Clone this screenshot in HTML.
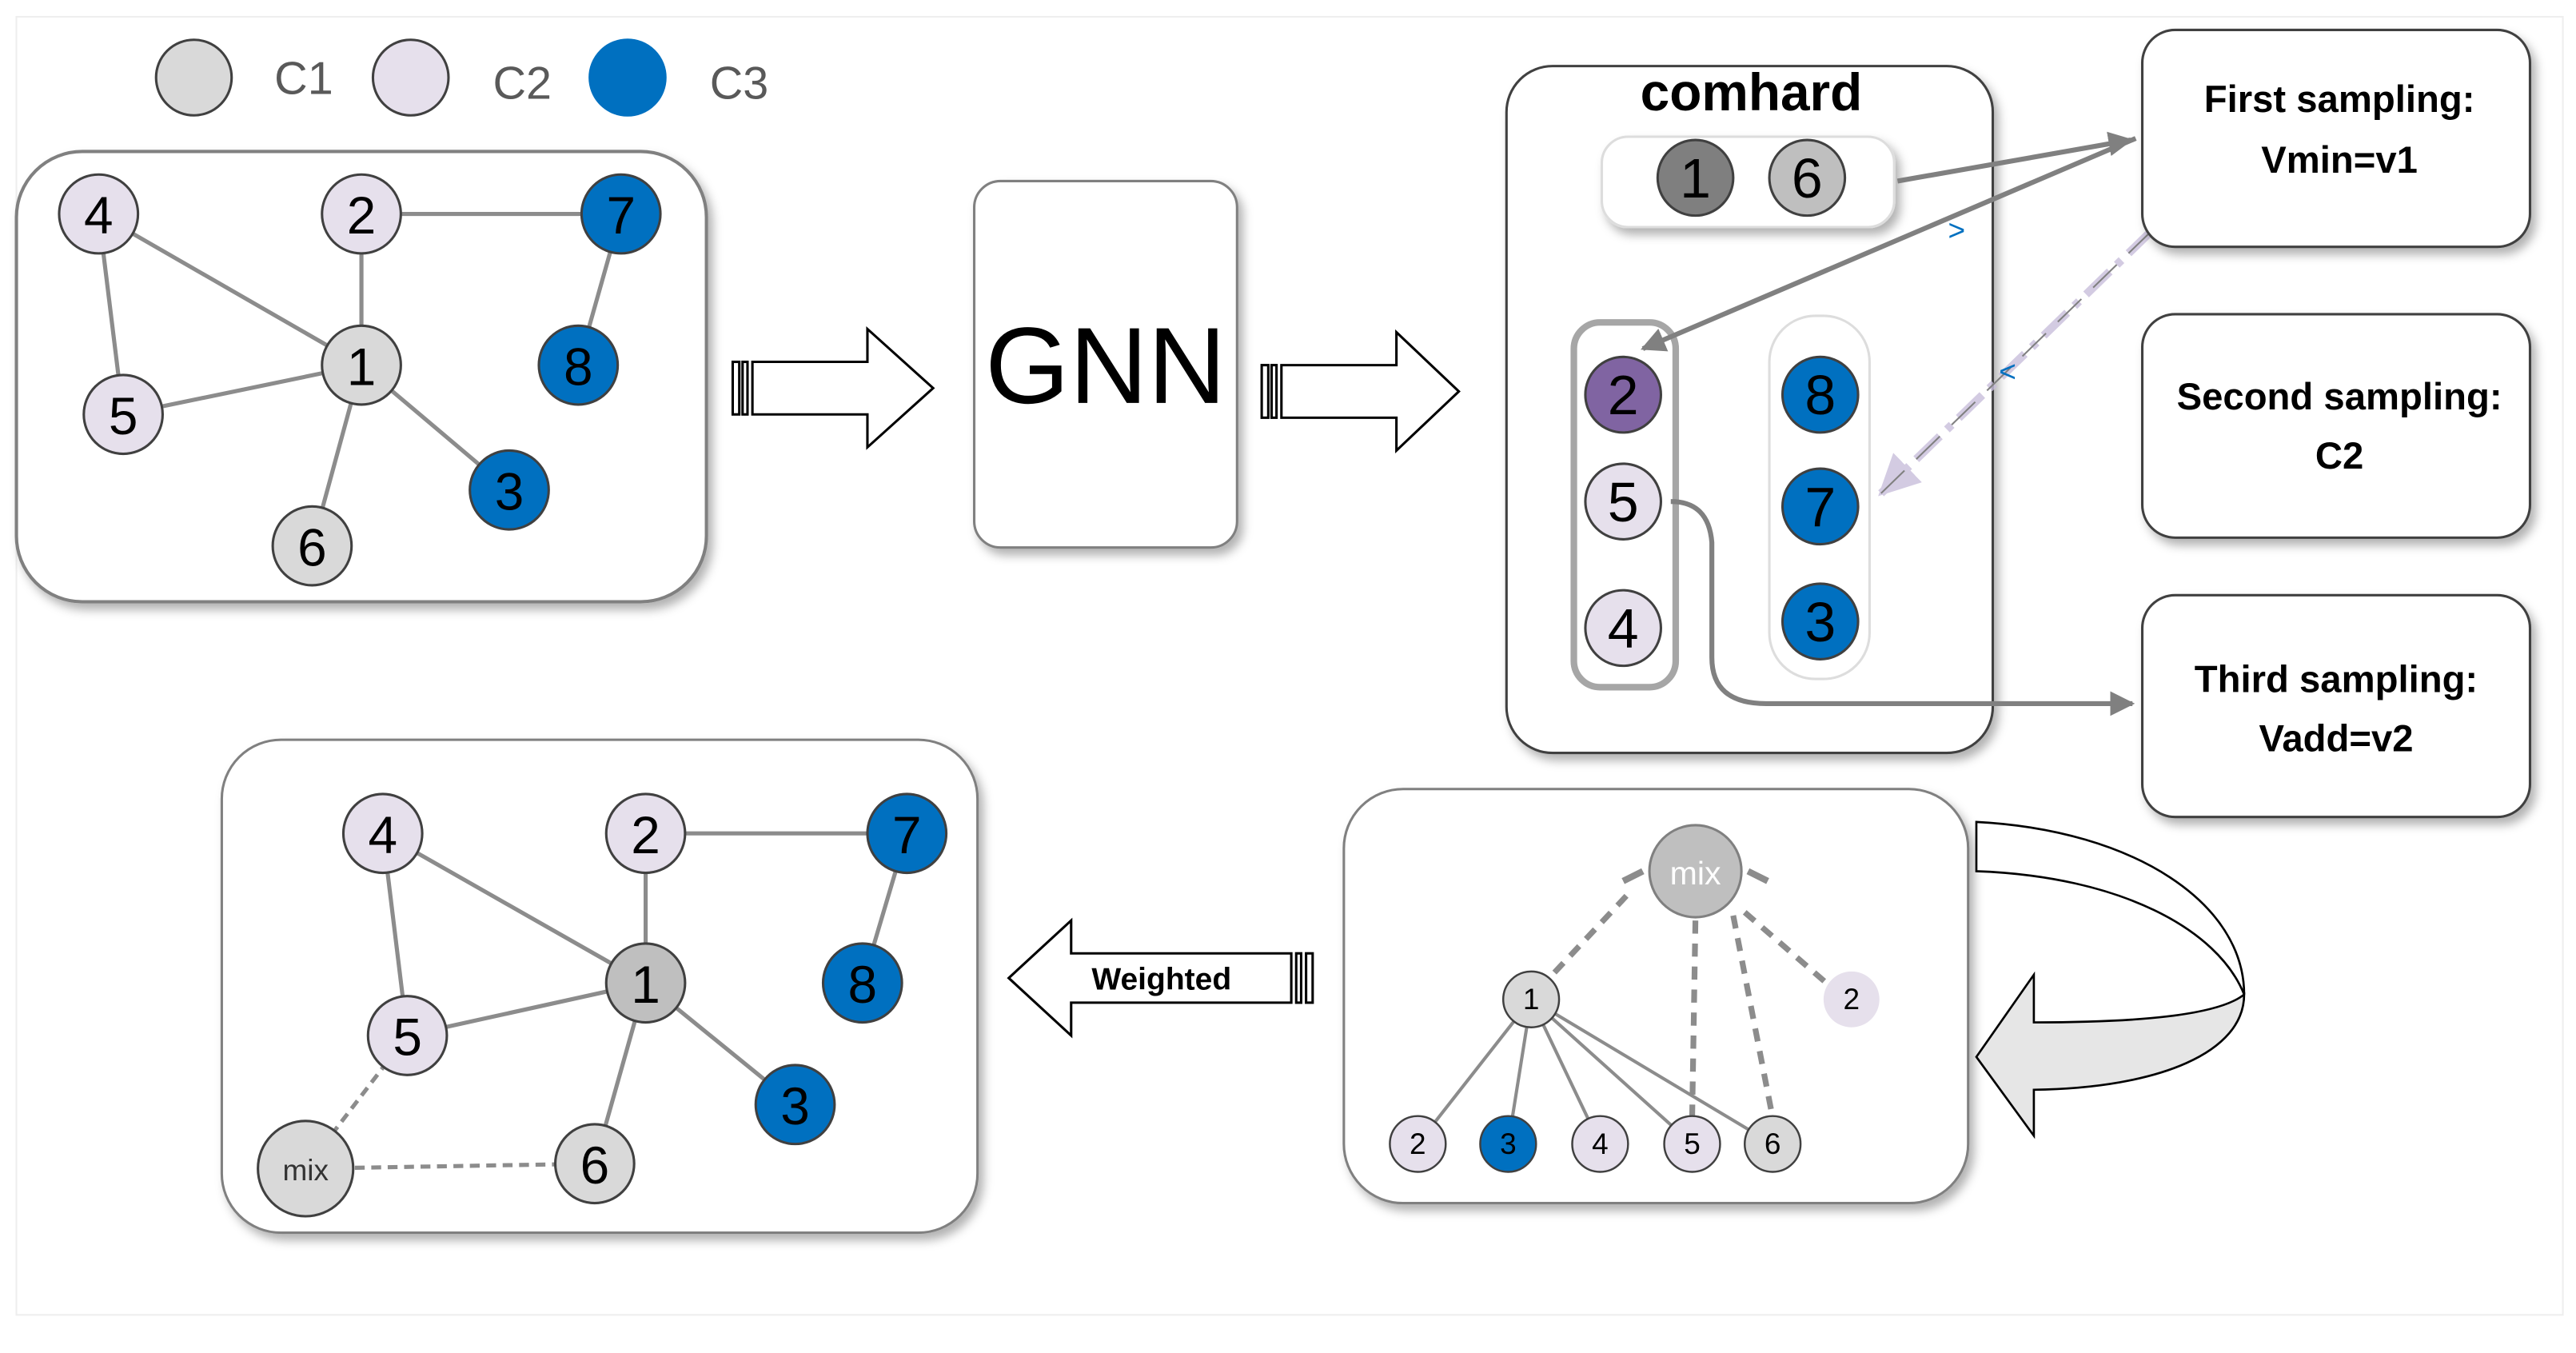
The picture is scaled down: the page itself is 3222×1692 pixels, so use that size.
<!DOCTYPE html>
<html><head><meta charset="utf-8"><style>html,body{margin:0;padding:0;background:#fff}svg{display:block}</style></head><body>
<svg width="3222" height="1692" viewBox="0 0 1568 823" xmlns="http://www.w3.org/2000/svg" font-family="Liberation Sans, sans-serif">
<defs>
<filter id="sh" x="-10%" y="-10%" width="130%" height="130%"><feDropShadow dx="3" dy="4" stdDeviation="3" flood-color="#000" flood-opacity="0.3"/></filter>
<marker id="ah" viewBox="0 0 10 10" refX="9" refY="5" markerWidth="5" markerHeight="5" orient="auto"><path d="M0,0L10,5L0,10z" fill="#808080"/></marker>
<marker id="ahp" viewBox="0 0 10 10" refX="9" refY="5" markerWidth="5" markerHeight="5" orient="auto"><path d="M0,0L10,5L0,10z" fill="#c9bfdc"/></marker>
</defs>
<rect x="10" y="10" width="1550" height="790" fill="none" stroke="#eee"/>
<!-- legend -->
<g stroke="#404040" stroke-width="1.5">
<circle cx="118" cy="47" r="23" fill="#d9d9d9"/><circle cx="250" cy="47" r="23" fill="#e6e0ec"/><circle cx="382" cy="47" r="23" fill="#0070c0" stroke="#0070c0"/>
</g>
<g font-size="28" fill="#595959"><text x="167" y="57">C1</text><text x="300" y="60">C2</text><text x="432" y="60">C3</text></g>

<!-- top-left graph -->
<rect x="10" y="92" width="420" height="274" rx="40" fill="#fff" stroke="#808080" stroke-width="2" filter="url(#sh)"/>
<g stroke="#8c8c8c" stroke-width="2.5">
<line x1="60" y1="130" x2="220" y2="222"/><line x1="60" y1="130" x2="75" y2="252"/><line x1="220" y1="130" x2="378" y2="130"/><line x1="220" y1="130" x2="220" y2="222"/><line x1="378" y1="130" x2="352" y2="222"/><line x1="75" y1="252" x2="220" y2="222"/><line x1="220" y1="222" x2="310" y2="298"/><line x1="220" y1="222" x2="190" y2="332"/>
</g>
<g stroke="#404040" stroke-width="1.5" font-size="32" text-anchor="middle">
<g><circle cx="60" cy="130" r="24" fill="#e6e0ec"/><circle cx="220" cy="130" r="24" fill="#e6e0ec"/><circle cx="378" cy="130" r="24" fill="#0070c0"/><circle cx="220" cy="222" r="24" fill="#d9d9d9"/><circle cx="352" cy="222" r="24" fill="#0070c0"/><circle cx="75" cy="252" r="24" fill="#e6e0ec"/><circle cx="310" cy="298" r="24" fill="#0070c0"/><circle cx="190" cy="332" r="24" fill="#d9d9d9"/></g>
<g stroke="none" fill="#000"><text x="60" y="142">4</text><text x="220" y="142">2</text><text x="378" y="142">7</text><text x="220" y="234">1</text><text x="352" y="234">8</text><text x="75" y="264">5</text><text x="310" y="310">3</text><text x="190" y="344">6</text></g>
</g>

<!-- hollow arrows -->
<g fill="#fff" stroke="#000" stroke-width="1.5">
<path d="M458,220 L528,220 L528,200 L568,236 L528,272 L528,252 L458,252 Z"/>
<rect x="446" y="220" width="4" height="32"/><rect x="452" y="220" width="3" height="32"/>
<path d="M780,222 L850,222 L850,202 L888,238 L850,274 L850,254 L780,254 Z"/>
<rect x="768" y="222" width="4" height="32"/><rect x="774" y="222" width="3" height="32"/>
</g>
<!-- GNN -->
<rect x="593" y="110" width="160" height="223" rx="16" fill="#fff" stroke="#808080" stroke-width="1.5" filter="url(#sh)"/>
<text x="673" y="245" font-size="66" text-anchor="middle">GNN</text>

<!-- comhard -->
<rect x="917" y="40" width="296" height="418" rx="28" fill="#fff" stroke="#404040" stroke-width="1.5" filter="url(#sh)"/>
<text x="1066" y="67" font-size="32" font-weight="bold" text-anchor="middle">comhard</text>
<rect x="975" y="83" width="178" height="55" rx="16" fill="#fff" stroke="#ddd" stroke-width="1.5" filter="url(#sh)"/>
<rect x="958" y="196" width="62" height="222" rx="16" fill="#fff" stroke="#a6a6a6" stroke-width="4"/>
<rect x="1077" y="192" width="61" height="221" rx="28" fill="#fff" stroke="#ddd" stroke-width="1.5"/>
<g stroke="#808080" stroke-width="3" fill="none">
<line x1="1155" y1="110" x2="1297" y2="85" marker-end="url(#ah)"/>
<line x1="1300" y1="84" x2="1000" y2="212" marker-end="url(#ah)"/>
<path d="M1017,305 Q1040,305 1042,330 L1042,400 Q1042,428 1075,428 L1298,428" marker-end="url(#ah)"/>
</g>
<line x1="1310" y1="140" x2="1145" y2="300" stroke="#c9bfdc" stroke-width="5" stroke-dasharray="20,6,4,6" opacity="0.8" marker-end="url(#ahp)"/>
<line x1="1310" y1="140" x2="1145" y2="300" stroke="#808080" stroke-width="1" stroke-dasharray="20,10"/>
<text x="1191" y="146" font-size="18" fill="#0070c0" text-anchor="middle">&gt;</text>
<text x="1222" y="232" font-size="18" fill="#0070c0" text-anchor="middle">&lt;</text>
<g stroke="#404040" stroke-width="1.5" font-size="34" text-anchor="middle">
<g><circle cx="1032" cy="108" r="23" fill="#7f7f7f"/><circle cx="1100" cy="108" r="23" fill="#bfbfbf"/><circle cx="988" cy="240" r="23" fill="#8064a2"/><circle cx="988" cy="305" r="23" fill="#e6e0ec"/><circle cx="988" cy="382" r="23" fill="#e6e0ec"/><circle cx="1108" cy="240" r="23" fill="#0070c0"/><circle cx="1108" cy="308" r="23" fill="#0070c0"/><circle cx="1108" cy="378" r="23" fill="#0070c0"/></g>
<g stroke="none" fill="#000"><text x="1032" y="120">1</text><text x="1100" y="120">6</text><text x="988" y="252">2</text><text x="988" y="317">5</text><text x="988" y="394">4</text><text x="1108" y="252">8</text><text x="1108" y="320">7</text><text x="1108" y="390">3</text></g>
</g>

<!-- sampling boxes -->
<g fill="#fff" stroke="#404040" stroke-width="1.5" filter="url(#sh)">
<rect x="1304" y="18" width="236" height="132" rx="20"/><rect x="1304" y="191" width="236" height="136" rx="20"/><rect x="1304" y="362" width="236" height="135" rx="20"/>
</g>
<g font-size="23" font-weight="bold" text-anchor="middle">
<text x="1424" y="68">First sampling:</text><text x="1424" y="105">Vmin=v1</text>
<text x="1424" y="249">Second sampling:</text><text x="1424" y="285">C2</text>
<text x="1422" y="421">Third sampling:</text><text x="1422" y="457">Vadd=v2</text>
</g>

<!-- bottom-right tree -->
<rect x="818" y="480" width="380" height="252" rx="36" fill="#fff" stroke="#808080" stroke-width="1.5" filter="url(#sh)"/>
<g stroke="#8c8c8c" stroke-width="2">
<line x1="932" y1="608" x2="863" y2="696"/><line x1="932" y1="608" x2="918" y2="696"/><line x1="932" y1="608" x2="974" y2="696"/><line x1="932" y1="608" x2="1030" y2="696"/><line x1="932" y1="608" x2="1079" y2="696"/>
</g>
<g stroke="#8c8c8c" stroke-width="3.5" stroke-dasharray="8,6" fill="none">
<line x1="990" y1="545" x2="944" y2="594"/><line x1="1032" y1="560" x2="1030" y2="680"/><line x1="1055" y1="557" x2="1079" y2="680"/><line x1="1062" y1="555" x2="1114" y2="600"/>
</g>
<path d="M988,536 L1000,530 M1076,536 L1064,530" stroke="#8c8c8c" stroke-width="4"/>
<circle cx="1032" cy="530" r="28" fill="#bfbfbf" stroke="#808080" stroke-width="1.5"/>
<text x="1032" y="538" font-size="20" fill="#fff" text-anchor="middle">mix</text>
<g stroke="#404040" stroke-width="1.2" font-size="18" text-anchor="middle">
<g><circle cx="932" cy="608" r="17" fill="#d9d9d9"/><circle cx="863" cy="696" r="17" fill="#e6e0ec"/><circle cx="918" cy="696" r="17" fill="#0070c0"/><circle cx="974" cy="696" r="17" fill="#e6e0ec"/><circle cx="1030" cy="696" r="17" fill="#e6e0ec"/><circle cx="1079" cy="696" r="17" fill="#d9d9d9"/><circle cx="1127" cy="608" r="17" fill="#e6e0ec" stroke="none"/></g>
<g stroke="none" fill="#000"><text x="932" y="614">1</text><text x="863" y="702">2</text><text x="918" y="702">3</text><text x="974" y="702">4</text><text x="1030" y="702">5</text><text x="1079" y="702">6</text><text x="1127" y="614">2</text></g>
</g>
<!-- curved ribbon arrow -->
<path d="M1203,500 C1300,505 1366,550 1366,605 C1350,565 1290,533 1203,530 Z" fill="#fff" stroke="#000" stroke-width="1.3"/>
<path d="M1366,605 C1366,640 1315,662 1238,663 L1238,691 L1203,643 L1238,593 L1238,622 C1300,622 1350,618 1366,605 Z" fill="#e6e6e6" stroke="#000" stroke-width="1.3"/>

<!-- weighted arrow -->
<g fill="#fff" stroke="#000" stroke-width="1.5">
<path d="M786,580 L652,580 L652,560 L614,595 L652,630 L652,610 L786,610 Z"/>
<rect x="789" y="580" width="3" height="30"/><rect x="795" y="580" width="4" height="30"/>
</g>
<text x="707" y="602" font-size="19" font-weight="bold" text-anchor="middle">Weighted</text>

<!-- bottom-left graph -->
<rect x="135" y="450" width="460" height="300" rx="36" fill="#fff" stroke="#808080" stroke-width="1.5" filter="url(#sh)"/>
<g stroke="#8c8c8c" stroke-width="2.5">
<line x1="233" y1="507" x2="393" y2="598"/><line x1="233" y1="507" x2="248" y2="630"/><line x1="393" y1="507" x2="552" y2="507"/><line x1="393" y1="507" x2="393" y2="598"/><line x1="552" y1="507" x2="525" y2="598"/><line x1="248" y1="630" x2="393" y2="598"/><line x1="393" y1="598" x2="484" y2="672"/><line x1="393" y1="598" x2="362" y2="708"/>
</g>
<g stroke="#8c8c8c" stroke-width="2.5" stroke-dasharray="6,4"><line x1="248" y1="630" x2="186" y2="711"/><line x1="186" y1="711" x2="362" y2="708"/></g>
<g stroke="#404040" stroke-width="1.5" font-size="32" text-anchor="middle">
<g><circle cx="233" cy="507" r="24" fill="#e6e0ec"/><circle cx="393" cy="507" r="24" fill="#e6e0ec"/><circle cx="552" cy="507" r="24" fill="#0070c0"/><circle cx="393" cy="598" r="24" fill="#bfbfbf"/><circle cx="525" cy="598" r="24" fill="#0070c0"/><circle cx="248" cy="630" r="24" fill="#e6e0ec"/><circle cx="484" cy="672" r="24" fill="#0070c0"/><circle cx="362" cy="708" r="24" fill="#d9d9d9"/><circle cx="186" cy="711" r="29" fill="#d9d9d9"/></g>
<g stroke="none" fill="#000"><text x="233" y="519">4</text><text x="393" y="519">2</text><text x="552" y="519">7</text><text x="393" y="610">1</text><text x="525" y="610">8</text><text x="248" y="642">5</text><text x="484" y="684">3</text><text x="362" y="720">6</text><text x="186" y="718" font-size="18" fill="#333">mix</text></g>
</g>
</svg>
</body></html>
